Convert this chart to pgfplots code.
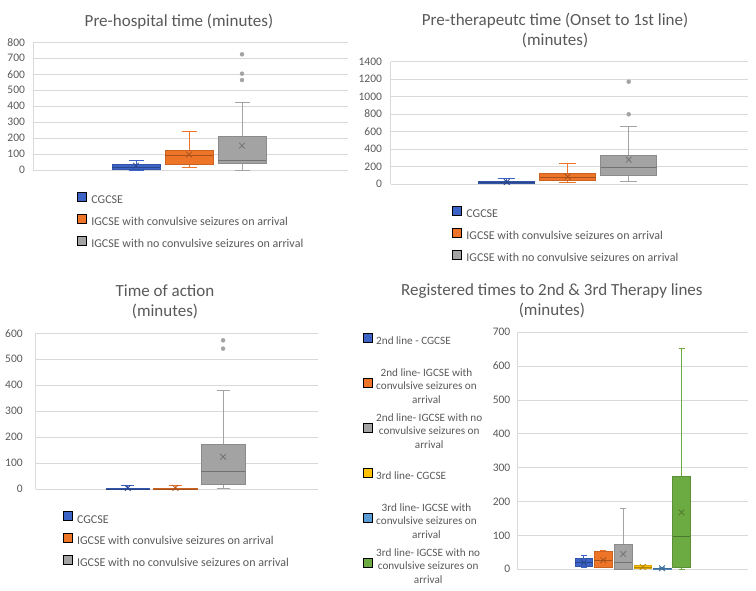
\documentclass[border=0pt]{standalone}
\usepackage{pgfplots}
\pgfplotsset{compat=1.18}
\usepgfplotslibrary{statistics}
\usepackage{fontspec}
\setmainfont{Carlito}
\definecolor{cblue}{HTML}{3B64C6}
\definecolor{corange}{HTML}{EE7428}
\definecolor{cgray}{HTML}{A3A3A3}
\definecolor{cyellow}{HTML}{FFC000}
\definecolor{clblue}{HTML}{5B9BD5}
\definecolor{cgreen}{HTML}{6CAA42}
\definecolor{gridc}{HTML}{D9D9D9}
\definecolor{txt}{HTML}{595959}
\pgfplotsset{
  panel/.style={
    scale only axis, axis x line*=bottom, axis y line*=left,
    axis line style={draw=gridc, line width=0.75pt},
    xmin=0, ymin=0, xtick=\empty, major tick length=0pt,
    ymajorgrids, grid style={draw=gridc, line width=0.75pt},
    tick label style={font=\fontsize{11.5}{13}\selectfont, text=txt},
    /pgf/number format/assume math mode=true,
    /pgf/number format/1000 sep={},
    clip=false,
    legend cell align=left,
    legend image code/.code={\fill[##1] (0pt,-1pt) rectangle (9pt,8pt);},
    title style={font=\fontsize{17}{20}\selectfont, text=txt, align=center, anchor=base, yshift=-6pt},
    legend style={draw=none, fill=none, text=txt, font=\fontsize{12}{13.5}\selectfont,
      inner sep=0pt, outer sep=0pt, row sep=0pt, column sep=5pt, anchor=north west},
  },
  bs/.style={draw=#1, boxplot/draw direction=y,
    boxplot/every box/.style={fill=#1, draw=#1!85!black, line width=0.6pt},
    boxplot/every whisker/.style={draw=#1, line width=0.75pt},
    boxplot/every median/.style={draw=#1!70!black, line width=0.9pt},
    mark=*, mark size=2pt, mark options={fill=#1, draw=#1}, forget plot},
  mn/.style={forget plot, only marks, mark=x, mark size=4pt, line width=0.8pt, color=#1!70!black},
}
\begin{document}
\begin{tikzpicture}
\useasboundingbox (0pt,0pt) rectangle (756pt,591pt);
% Panel 1
\begin{axis}[panel, at={(33pt,420.7pt)}, anchor=south west, width=315pt, height=128pt,
  xmax=315, ymax=800, ytick distance=100, yticklabel style={xshift=-4.5pt},
  title={Pre-hospital time (minutes)}, title style={at={(0.4635,1.127)}},
  legend style={at={(0.1397,-0.15)}, nodes={inner sep=0pt, text height=14.5pt, text depth=7.5pt}}]
\addplot[bs=cblue, boxplot prepared={lower whisker=0, lower quartile=6, median=20, upper quartile=37, upper whisker=62, draw position=103, box extend=48, whisker extend=15}] coordinates {};
\addplot[bs=corange, boxplot prepared={lower whisker=20, lower quartile=39, median=91, upper quartile=126, upper whisker=244, draw position=156, box extend=48, whisker extend=15}] coordinates {};
\addplot[bs=cgray, boxplot prepared={lower whisker=2, lower quartile=44, median=64, upper quartile=212, upper whisker=425, draw position=209, box extend=48, whisker extend=15}] table[row sep=\\, y index=0] {v\\ 725\\ 604\\ 564\\};
\addplot[mn=cblue] coordinates {(103,29)};
\addplot[mn=corange] coordinates {(156,98)};
\addplot[mn=cgray] coordinates {(209,154)};
\addlegendimage{fill=cblue}\addlegendentry{CGCSE}
\addlegendimage{fill=corange}\addlegendentry{IGCSE with convulsive seizures on arrival}
\addlegendimage{fill=cgray}\addlegendentry{IGCSE with no convulsive seizures on arrival}
\end{axis}
% Panel 2
\begin{axis}[panel, at={(390.7pt,407pt)}, anchor=south west, width=357.3pt, height=122.3pt,
  xmax=357.3, ymax=1400, ytick distance=200, yticklabel style={xshift=-5.2pt},
  title={Pre-therapeutc time (Onset to 1st line)\\(minutes)}, title style={at={(0.46,1.1308)}},
  legend style={at={(0.1716,-0.1553)}, nodes={inner sep=0pt, text height=14.5pt, text depth=7.5pt}}]
\addplot[bs=cblue, boxplot prepared={lower whisker=4, lower quartile=4, median=15, upper quartile=26, upper whisker=65, draw position=116, box extend=56, whisker extend=17}] coordinates {};
\addplot[bs=corange, boxplot prepared={lower whisker=19, lower quartile=38, median=80, upper quartile=122, upper whisker=240, draw position=177, box extend=56, whisker extend=17}] coordinates {};
\addplot[bs=cgray, boxplot prepared={lower whisker=26, lower quartile=95, median=191, upper quartile=328, upper whisker=660, draw position=238, box extend=56, whisker extend=17}] table[row sep=\\, y index=0] {v\\ 1171\\ 798\\};
\addplot[mn=cblue] coordinates {(116,23)};
\addplot[mn=corange] coordinates {(177,84)};
\addplot[mn=cgray] coordinates {(238,278)};
\addlegendimage{fill=cblue}\addlegendentry{CGCSE}
\addlegendimage{fill=corange}\addlegendentry{IGCSE with convulsive seizures on arrival}
\addlegendimage{fill=cgray}\addlegendentry{IGCSE with no convulsive seizures on arrival}
\end{axis}
% Panel 3
\begin{axis}[panel, at={(35.7pt,101.7pt)}, anchor=south west, width=282.6pt, height=156pt,
  xmax=282.6, ymax=600, ytick distance=100, yticklabel style={xshift=-9.5pt},
  title={Time of action\\(minutes)}, title style={at={(0.4575,1.1064)}},
  legend style={at={(0.0955,-0.124)}, nodes={inner sep=0pt, text height=14.5pt, text depth=7.2pt}}]
\addplot[bs=cblue, boxplot prepared={lower whisker=0, lower quartile=0, median=1, upper quartile=2, upper whisker=15, draw position=92, box extend=43.5, whisker extend=13}] coordinates {};
\addplot[bs=corange, boxplot prepared={lower whisker=0, lower quartile=0, median=1, upper quartile=2, upper whisker=15, draw position=139.7, box extend=43.5, whisker extend=13}] coordinates {};
\addplot[bs=cgray, boxplot prepared={lower whisker=2, lower quartile=20, median=70, upper quartile=173, upper whisker=379, draw position=187.4, box extend=43.5, whisker extend=13}] table[row sep=\\, y index=0] {v\\ 573\\ 541\\};
\addplot[mn=cblue] coordinates {(92,5)};
\addplot[mn=corange] coordinates {(139.7,5)};
\addplot[mn=cgray] coordinates {(187.4,125)};
\addlegendimage{fill=cblue}\addlegendentry{CGCSE}
\addlegendimage{fill=corange}\addlegendentry{IGCSE with convulsive seizures on arrival}
\addlegendimage{fill=cgray}\addlegendentry{IGCSE with no convulsive seizures on arrival}
\end{axis}
% Panel 4
\begin{axis}[panel, at={(517.3pt,21.7pt)}, anchor=south west, width=230.7pt, height=237pt,
  xmax=230.7, ymax=700, ytick distance=100, yticklabel style={xshift=-3.5pt},
  title={Registered times to 2nd \& 3rd Therapy lines\\(minutes)}, title style={at={(0.150,1.0688)}},
  legend style={at={(-0.6675,1.057)}, column sep=3.5pt, font=\fontsize{11.2}{13.5}\selectfont, nodes={inner sep=0pt, text height=26pt, text depth=19pt}}]
\addplot[bs=cblue, boxplot prepared={lower whisker=5, lower quartile=9, median=21, upper quartile=33, upper whisker=41, draw position=66.5, box extend=17.7, whisker extend=6}] coordinates {};
\addplot[bs=corange, boxplot prepared={lower whisker=5, lower quartile=7, median=25, upper quartile=53, upper whisker=56, draw position=86, box extend=17.7, whisker extend=6}] coordinates {};
\addplot[bs=cgray, boxplot prepared={lower whisker=0, lower quartile=0, median=21, upper quartile=74, upper whisker=181, draw position=105.9, box extend=17.7, whisker extend=6}] coordinates {};
\addplot[bs=cyellow, boxplot prepared={lower whisker=2, lower quartile=2, median=6, upper quartile=11, upper whisker=13, draw position=125.5, box extend=17.7, whisker extend=6}] coordinates {};
\addplot[bs=clblue, boxplot prepared={lower whisker=0, lower quartile=1, median=3, upper quartile=4, upper whisker=6, draw position=144.7, box extend=17.7, whisker extend=6}] coordinates {};
\addplot[bs=cgreen, boxplot prepared={lower whisker=0, lower quartile=5, median=96, upper quartile=276, upper whisker=653, draw position=164.2, box extend=17.7, whisker extend=6}] coordinates {};
\addplot[mn=cblue] coordinates {(66.5,20)};
\addplot[mn=corange] coordinates {(86,27)};
\addplot[mn=cgray] coordinates {(105.9,45)};
\addplot[mn=cyellow] coordinates {(125.5,7)};
\addplot[mn=clblue] coordinates {(144.7,3)};
\addplot[mn=cgreen] coordinates {(164.2,168)};
\addlegendimage{fill=cblue}\addlegendentry{2nd line - CGCSE}
\addlegendimage{fill=corange}\addlegendentry{\begin{tabular}{@{}c@{}}2nd line- IGCSE with\\convulsive seizures on\\arrival\end{tabular}}
\addlegendimage{fill=cgray}\addlegendentry{\begin{tabular}{@{}c@{}}2nd line- IGCSE with no\\convulsive seizures on\\arrival\end{tabular}}
\addlegendimage{fill=cyellow}\addlegendentry{3rd line- CGCSE}
\addlegendimage{fill=clblue}\addlegendentry{\begin{tabular}{@{}c@{}}3rd line- IGCSE with\\convulsive seizures on\\arrival\end{tabular}}
\addlegendimage{fill=cgreen}\addlegendentry{\begin{tabular}{@{}c@{}}3rd line- IGCSE with no\\convulsive seizures on\\arrival\end{tabular}}
\end{axis}
\end{tikzpicture}
\end{document}
